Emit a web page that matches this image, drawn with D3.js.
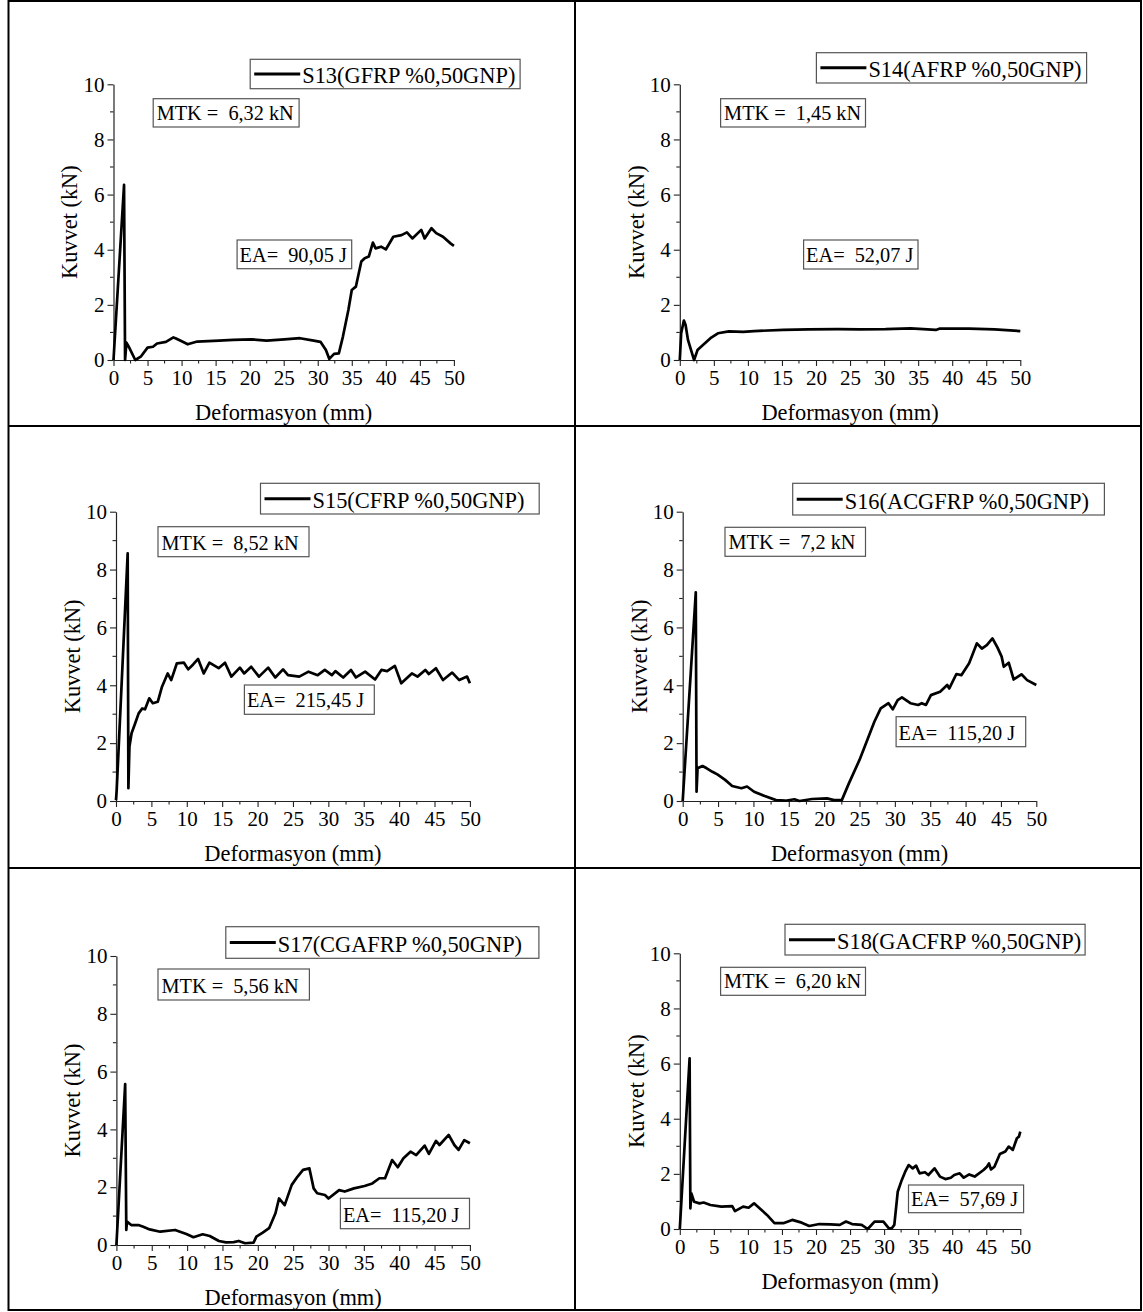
<!DOCTYPE html>
<html>
<head>
<meta charset="utf-8">
<script src="https://cdn.jsdelivr.net/npm/d3@7"></script>
<style>
  body { margin: 0; background: #fff; }
  svg text { font-family: "Liberation Serif", "Times New Roman", serif; fill: #000; white-space: pre; }
</style>
</head>
<body>
<svg id="fig" width="1143" height="1312"></svg>
<script>
// ---- data ----
const NAMES = [
  'S13(GFRP %0,50GNP)', 'S14(AFRP %0,50GNP)', 'S15(CFRP %0,50GNP)',
  'S16(ACGFRP %0,50GNP)', 'S17(CGAFRP %0,50GNP)', 'S18(GACFRP %0,50GNP)'
];
const MTK = ['6,32', '1,45', '8,52', '7,2', '5,56', '6,20'];
const EA  = ['90,05', '52,07', '215,45', '115,20', '115,20', '57,69'];

const X_TICKS = [0, 5, 10, 15, 20, 25, 30, 35, 40, 45, 50];
const Y_TICKS = [0, 2, 4, 6, 8, 10];

// [deformation mm, force kN]
const S13 = [[0,0],[1.55,6.35],[1.7,0],[1.9,0.63],[2.2,0.5],[3.2,0],[4.0,0.12],[5.0,0.45],[5.8,0.48],
  [6.4,0.6],[7.7,0.66],[8.8,0.82],[9.1,0.79],[10.1,0.67],[10.9,0.57],[12.3,0.67],[15.5,0.7],[17.6,0.73],
  [20.3,0.75],[22.5,0.7],[25.1,0.75],[27.4,0.79],[29.4,0.7],[30.4,0.66],[31.2,0.36],[31.7,0.04],[32.4,0.22],
  [33.1,0.24],[33.7,0.85],[34.5,1.81],[35.0,2.54],[35.6,2.66],[36.4,3.57],[36.9,3.69],[37.5,3.75],[38.1,4.26],
  [38.5,4.05],[39.3,4.11],[40.0,4.01],[41.1,4.47],[42.3,4.53],[43.1,4.63],[43.9,4.41],[45.2,4.72],[45.7,4.41],
  [46.7,4.78],[47.4,4.6],[48.4,4.47],[49.5,4.23],[50,4.14]];
const S14 = [[0,0],[0.2,0.97],[0.6,1.43],[0.85,1.27],[1.2,0.73],[1.8,0.24],[2.1,0],[2.6,0.36],[3.4,0.54],
  [4.5,0.79],[5.6,0.97],[7.2,1.04],[9.3,1.02],[10.9,1.05],[15.2,1.09],[18.9,1.11],[23.2,1.12],[26.4,1.11],
  [30.2,1.12],[33.9,1.15],[37.6,1.09],[38.2,1.14],[42.5,1.14],[46.2,1.11],[50,1.05]];
const S15 = [[0,0.03],[0.1,0.38],[1.65,8.56],[1.75,0.44],[1.9,1.88],[2.2,2.34],[2.7,2.68],[3.2,3.03],[3.7,3.2],
  [4.1,3.17],[4.7,3.55],[5.2,3.38],[5.9,3.43],[6.5,3.95],[7.3,4.41],[7.8,4.18],[8.6,4.76],[9.6,4.78],[10.2,4.55],
  [10.9,4.72],[11.6,4.91],[12.4,4.41],[13.2,4.78],[14.5,4.59],[15.4,4.78],[16.3,4.3],[17.5,4.61],[18.1,4.41],
  [19.1,4.64],[20.2,4.3],[21.5,4.61],[22.5,4.27],[23.6,4.55],[24.3,4.35],[25.9,4.3],[27.2,4.47],[28.5,4.35],
  [29.5,4.53],[30.5,4.35],[31.0,4.49],[32.1,4.27],[33.2,4.53],[33.9,4.27],[35.2,4.47],[36.6,4.2],[37.5,4.53],
  [38.3,4.49],[39.4,4.67],[40.3,4.07],[41.8,4.41],[42.6,4.3],[43.7,4.53],[44.2,4.39],[45.2,4.59],[46.2,4.18],
  [47.5,4.44],[48.5,4.18],[49.6,4.3],[50,4.07]];
const S16 = [[0,0],[1.85,7.21],[1.96,0.32],[2.1,1.13],[2.8,1.21],[3.4,1.13],[4.2,1.01],[4.9,0.92],[6.0,0.73],
  [7.0,0.52],[8.3,0.44],[9.1,0.5],[10.1,0.32],[11.6,0.17],[13.2,0.03],[14.5,0.01],[15.8,0.06],[16.5,0],
  [18.3,0.07],[20.4,0.09],[21.4,0.03],[22.5,0.03],[23.5,0.61],[25.0,1.42],[26.1,2.11],[27.1,2.74],[28.0,3.2],
  [29.1,3.38],[29.7,3.17],[30.4,3.49],[31.0,3.58],[32.2,3.38],[33.3,3.32],[33.8,3.38],[34.4,3.32],[35.1,3.66],
  [36.4,3.78],[37.4,4.01],[37.7,3.89],[38.7,4.39],[39.4,4.35],[40.5,4.76],[41.6,5.45],[42.3,5.27],[43.0,5.39],
  [43.8,5.62],[44.5,5.31],[45.1,4.99],[45.4,4.64],[46.1,4.78],[46.8,4.2],[47.9,4.38],[48.7,4.18],[50,4.01]];
const S17 = [[0,0],[1.24,5.57],[1.4,0.52],[1.5,0.81],[2.1,0.69],[3.1,0.69],[3.8,0.63],[4.7,0.54],[6.2,0.46],
  [8.3,0.52],[9.9,0.38],[10.9,0.27],[12.2,0.37],[13.2,0.31],[14.5,0.14],[15.5,0.09],[16.6,0.1],[17.3,0.14],
  [18.2,0.06],[19.4,0.08],[19.8,0.29],[20.7,0.43],[21.6,0.58],[22.5,1.1],[23.0,1.61],[23.8,1.38],[24.8,2.08],
  [25.6,2.36],[26.4,2.6],[27.3,2.65],[27.9,1.96],[28.4,1.79],[29.5,1.73],[30.0,1.61],[31.5,1.9],[32.3,1.85],
  [33.6,1.96],[35.1,2.04],[36.2,2.13],[37.2,2.31],[38.0,2.31],[39.0,2.94],[39.8,2.69],[40.6,3.0],[41.6,3.23],
  [42.4,3.11],[43.6,3.44],[44.2,3.15],[45.2,3.6],[45.7,3.46],[47.0,3.81],[47.8,3.46],[48.4,3.29],[49.2,3.63],
  [50,3.52]];
const S18 = [[0,0],[1.44,6.19],[1.55,0.75],[1.7,1.29],[2.1,0.99],[2.9,0.93],[3.5,0.96],[4.5,0.87],[6.1,0.81],
  [7.7,0.83],[8.1,0.65],[9.3,0.81],[10.1,0.77],[10.9,0.93],[12.0,0.69],[12.8,0.51],[13.9,0.21],[15.2,0.21],
  [16.5,0.33],[17.9,0.23],[19.0,0.11],[20.5,0.18],[22.1,0.17],[23.5,0.15],[24.4,0.27],[25.3,0.18],[26.7,0.15],
  [27.6,0],[28.6,0.27],[29.9,0.27],[30.7,0.02],[31.1,0.02],[31.5,0.15],[32.0,1.35],[32.6,1.78],[33.1,2.08],
  [33.6,2.32],[34.2,2.2],[34.7,2.3],[35.2,2.02],[36.0,2.06],[36.5,1.96],[37.4,2.2],[38.2,1.9],[39.0,1.81],
  [39.8,1.86],[40.3,1.96],[41.1,2.02],[41.7,1.86],[42.5,1.98],[43.3,1.9],[44.6,2.14],[45.1,2.26],[45.4,2.38],
  [45.7,2.16],[46.2,2.26],[47.0,2.72],[47.8,2.81],[48.3,2.99],[48.9,2.87],[49.5,3.29],[49.8,3.35],[50,3.53]];
const SERIES = [S13, S14, S15, S16, S17, S18];

// ---- layout (px): plot area, legend / MTK / EA boxes as [left, top, right, bottom] ----
const PANELS = [
  { x0: 113.5, x1: 453.9,  yb: 360,  yt: 84.3,  leg: [250.2, 59.3, 520.1, 88.7],  mtk: [153.2, 98.7, 299.1, 127],   ea: [237.1, 240, 351.7, 268.7] },
  { x0: 679.8, x1: 1020.3, yb: 360,  yt: 84.3,  leg: [816.4, 52.7, 1086.6, 83],   mtk: [720.6, 98.7, 865.5, 127],   ea: [803.6, 240, 918, 269] },
  { x0: 116,   x1: 469.9,  yb: 801,  yt: 511.7, leg: [260.5, 483.3, 539.2, 514],  mtk: [158, 526.7, 309, 556.7],    ea: [244.4, 685, 374.3, 714.3] },
  { x0: 682.7, x1: 1036.3, yb: 801,  yt: 511.7, leg: [792.7, 483.3, 1104.4, 515], mtk: [725, 527.3, 865.5, 556.3],  ea: [896.1, 716.7, 1025.7, 746.7] },
  { x0: 116.4, x1: 469.9,  yb: 1245, yt: 956,   leg: [225.8, 926.7, 538.9, 958.3],mtk: [158, 969, 309.4, 1000],     ea: [340.4, 1198.3, 469.5, 1228.7] },
  { x0: 679.8, x1: 1020.3, yb: 1229, yt: 953.3, leg: [785, 924.3, 1085.1, 955],   mtk: [720.6, 967.3, 865.5, 995.3],ea: [908.5, 1185, 1023.6, 1212.7] }
];

const svg = d3.select('#fig');

// table grid
const grid = svg.append('g').attr('stroke', '#000').attr('fill', 'none');
grid.append('rect').attr('x', 8.5).attr('y', 1).attr('width', 1132.5).attr('height', 1309).attr('stroke-width', 2);
grid.append('line').attr('x1', 575).attr('x2', 575).attr('y1', 1).attr('y2', 1310).attr('stroke-width', 2);
grid.append('line').attr('x1', 8.5).attr('x2', 1141).attr('y1', 426).attr('y2', 426).attr('stroke-width', 2);
grid.append('line').attr('x1', 8.5).attr('x2', 1141).attr('y1', 868).attr('y2', 868).attr('stroke-width', 2);

function box(g, r, stroke) {
  g.append('rect')
    .attr('x', r[0]).attr('y', r[1])
    .attr('width', r[2] - r[0]).attr('height', r[3] - r[1])
    .attr('fill', '#fff').attr('stroke', stroke).attr('stroke-width', 1.2);
}

PANELS.forEach((p, i) => {
  const x = d3.scaleLinear().domain([0, 50]).range([p.x0, p.x1]);
  const y = d3.scaleLinear().domain([0, 10]).range([p.yb, p.yt]);
  const g = svg.append('g');

  // axes
  const xAxis = d3.axisBottom(x).tickValues(X_TICKS).tickSize(6).tickSizeOuter(0).tickPadding(4);
  const yAxis = d3.axisLeft(y).tickValues(Y_TICKS).tickSize(6).tickSizeOuter(0).tickPadding(3);

  const gx = g.append('g').attr('transform', `translate(0,${p.yb})`).call(xAxis);
  const gy = g.append('g').attr('transform', `translate(${p.x0},0)`).call(yAxis);
  [gx, gy].forEach(a => {
    a.select('.domain').attr('stroke', '#222').attr('stroke-width', 1.2);
    a.selectAll('.tick line').attr('stroke', '#222').attr('stroke-width', 1.1);
    a.selectAll('.tick text')
      .attr('font-family', '"Liberation Serif", "Times New Roman", serif')
      .attr('font-size', 21).attr('fill', '#000');
  });
  gx.selectAll('.tick text').attr('dy', '0.72em');

  // minor ticks
  const minorX = d3.range(2.5, 50, 5);
  const minorY = d3.range(1, 10, 2);
  g.append('g').selectAll('line').data(minorX).join('line')
    .attr('x1', d => x(d)).attr('x2', d => x(d))
    .attr('y1', p.yb).attr('y2', p.yb + 3.5)
    .attr('stroke', '#222').attr('stroke-width', 1.1);
  g.append('g').selectAll('line').data(minorY).join('line')
    .attr('x1', p.x0).attr('x2', p.x0 - 3.5)
    .attr('y1', d => y(d)).attr('y2', d => y(d))
    .attr('stroke', '#222').attr('stroke-width', 1.1);

  // axis titles
  g.append('text')
    .attr('x', (p.x0 + p.x1) / 2).attr('y', p.yb + 60)
    .attr('text-anchor', 'middle').attr('font-size', 22.4)
    .text('Deformasyon (mm)');
  g.append('text')
    .attr('transform', `translate(${p.x0 - 44},${(p.yb + p.yt) / 2}) rotate(-90)`)
    .attr('text-anchor', 'middle').attr('dy', '0.35em').attr('font-size', 22.4)
    .text('Kuvvet (kN)');

  // curve
  const line = d3.line().x(d => x(d[0])).y(d => y(d[1]));
  g.append('path')
    .datum(SERIES[i])
    .attr('d', line)
    .attr('fill', 'none').attr('stroke', '#000')
    .attr('stroke-width', 2.7).attr('stroke-linejoin', 'round');

  // legend
  box(g, p.leg, '#555');
  const ly = (p.leg[1] + p.leg[3]) / 2;
  g.append('line')
    .attr('x1', p.leg[0] + 4).attr('x2', p.leg[0] + 50)
    .attr('y1', ly).attr('y2', ly)
    .attr('stroke', '#000').attr('stroke-width', 3);
  g.append('text')
    .attr('x', p.leg[0] + 52).attr('y', p.leg[3] - 6)
    .attr('font-size', 22.4)
    .text(NAMES[i]);

  // MTK / EA notes
  box(g, p.mtk, '#555');
  g.append('text')
    .attr('x', p.mtk[0] + 3.5).attr('y', p.mtk[3] - 7)
    .attr('font-size', 20.3)
    .text(`MTK =  ${MTK[i]} kN`);

  box(g, p.ea, '#555');
  g.append('text')
    .attr('x', p.ea[0] + 2.5).attr('y', p.ea[3] - 7)
    .attr('font-size', 20.3)
    .text(`EA=  ${EA[i]} J`);
});
</script>
</body>
</html>
